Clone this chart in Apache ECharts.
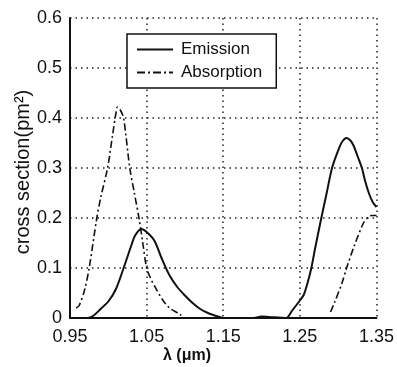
<!DOCTYPE html>
<html><head><meta charset="utf-8">
<script src="https://cdn.jsdelivr.net/npm/echarts@6/dist/echarts.min.js"></script>
<style>html,body{margin:0;padding:0;background:#fff}#c{width:397px;height:367px}</style>
</head><body><div id="c"></div>
<script>
// Wavelength (µm) and cross section (pm^2)
const emissionLambda = [0.95,0.973,0.98,0.99,1.00,1.01,1.02,1.03,1.035,1.043,1.05,1.06,1.07,1.08,1.09,1.10,1.11,1.12,1.13,1.145,1.15,1.19,1.20,1.21,1.232,1.24,1.25,1.255,1.26,1.265,1.27,1.278,1.285,1.292,1.30,1.305,1.311,1.316,1.32,1.325,1.331,1.335,1.34,1.345,1.35];
const emissionValues = [0,0,0.004,0.018,0.033,0.058,0.1,0.145,0.165,0.178,0.172,0.155,0.118,0.085,0.062,0.045,0.03,0.018,0.01,0.002,0,0,0.003,0.002,0,0.015,0.035,0.046,0.07,0.1,0.14,0.2,0.25,0.3,0.335,0.352,0.36,0.355,0.345,0.325,0.3,0.275,0.25,0.232,0.222];
const absorptionLambda = [0.958,0.962,0.969,0.975,0.985,0.99,0.999,1.005,1.01,1.012,1.016,1.02,1.028,1.034,1.04,1.045,1.05,1.055,1.06,1.071,1.08,1.093,1.095,1.2,1.29,1.295,1.305,1.311,1.32,1.333,1.34,1.345,1.35];
const absorptionValues = [0.02,0.025,0.056,0.1,0.2,0.24,0.3,0.36,0.41,0.422,0.415,0.4,0.3,0.25,0.2,0.15,0.1,0.08,0.065,0.036,0.02,0.008,0.005,null,0.012,0.03,0.07,0.1,0.14,0.19,0.203,0.205,0.205];
const xTicks = [0.95,1.05,1.15,1.25,1.35];
const yTicks = [0,0.1,0.2,0.3,0.4,0.5,0.6];
const seriesNames = ['Emission','Absorption'];
const yTitle = 'cross section(pm²)';
const xTitle = 'λ (μm)';

const X0 = xTicks[0];
const toX = l => Math.round((l - X0) * 1000) / 10; // shifted axis units (0..40)
const pairs = (xs, ys) => xs.map((x, i) => [toX(x), ys[i]]);

const solidIcon = 'path://M0,0h36v2h-36z';
const dashDotIcon = 'path://M0,0h8v2h-8z M11,0h2v2h-2z M16,0h8v2h-8z M27,0h2v2h-2z M32,0h4v2h-4z';

const chart = echarts.init(document.getElementById('c'));
const dotted = {color:'#222', width:1.5, type:[1.5,4]};
chart.setOption({
  animation:false,
  backgroundColor:'#fff',
  grid: {left:70, right:19, top:18, bottom:49},
  legend: {
    data: [{name:seriesNames[0], icon:solidIcon}, {name:seriesNames[1], icon:dashDotIcon}],
    orient:'vertical', left:127, top:34,
    backgroundColor:'#fff', borderColor:'#111', borderWidth:1.5,
    padding:[7,14,7,10], itemGap:6, itemWidth:36, itemHeight:14,
    itemStyle:{color:'#111'},
    textStyle:{fontFamily:'Liberation Sans', fontSize:17, color:'#111', padding:[0,0,0,3]}
  },
  xAxis: {
    type:'value', min:0, max:toX(xTicks[xTicks.length-1]), interval:10,
    axisLine:{show:true, onZero:false, lineStyle:{color:'#111', width:2}},
    axisTick:{show:false},
    splitLine:{show:true, lineStyle:dotted},
    axisLabel:{margin:10, color:'#111', fontFamily:'Liberation Sans', fontSize:18,
      formatter: v => { const t = xTicks.find(t => Math.abs(toX(t) - v) < 0.01); return t === undefined ? '' : t.toFixed(2); }}
  },
  yAxis: {
    type:'value', min:yTicks[0], max:yTicks[yTicks.length-1], interval:0.1,
    axisLine:{show:true, lineStyle:{color:'#111', width:2}},
    axisTick:{show:false},
    splitLine:{show:true, lineStyle:dotted},
    axisLabel:{margin:8, color:'#111', fontFamily:'Liberation Sans', fontSize:18,
      formatter: v => { const t = yTicks.find(t => Math.abs(t - v) < 1e-6); return t === undefined ? '' : String(t); }}
  },
  graphic: [{
    type:'text', x:23, y:172, rotation:Math.PI/2,
    style:{text:yTitle, font:'20px Liberation Sans', fill:'#111', align:'center', verticalAlign:'middle'}
  }, {
    type:'text', left:163, top:348,
    style:{text:xTitle, font:'bold 16px Liberation Sans', fill:'#111'}
  }],
  series: [
    {name:seriesNames[0], type:'line', data:pairs(emissionLambda, emissionValues), smooth:0.3,
     symbol:'none', lineStyle:{color:'#111', width:2}, itemStyle:{color:'#111'}},
    {name:seriesNames[1], type:'line', data:pairs(absorptionLambda, absorptionValues), smooth:0.3,
     connectNulls:false, symbol:'none', lineStyle:{color:'#111', width:1.6, type:[7,3,2,3]}, itemStyle:{color:'#111'}}
  ]
});
</script></body></html>
